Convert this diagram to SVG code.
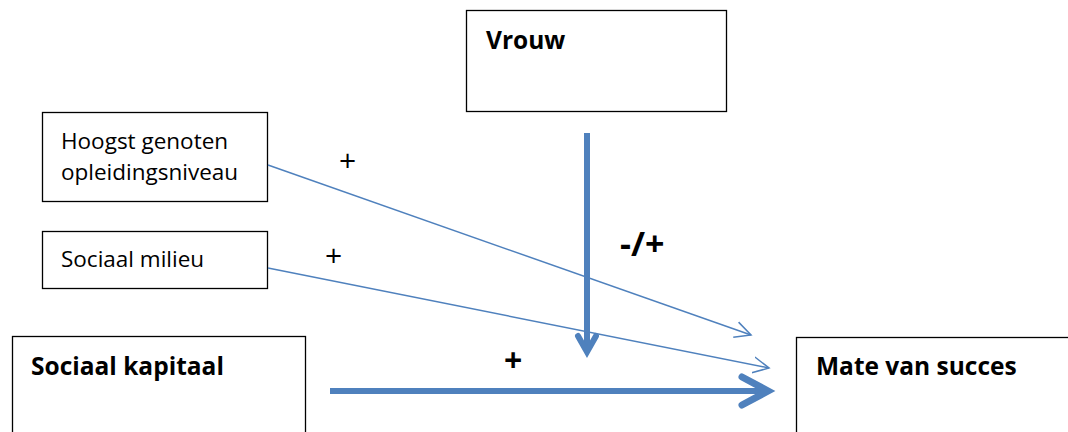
<svg xmlns="http://www.w3.org/2000/svg" width="1068" height="432" viewBox="0 0 1068 432">
<style>
.box{fill:#fff;stroke:#000;stroke-width:1.3}
.t{font-family:"Open Sans","Liberation Sans",sans-serif;fill:#000}
.b{font-weight:bold;font-size:24.5px}
.n{font-size:22.5px}
.thin{stroke:#4f81bd;stroke-width:1.5;fill:none}
.thick{stroke:#4f81bd;stroke-width:6;fill:none}
</style>
<defs>
<marker id="open" markerWidth="22" markerHeight="22" refX="16" refY="8" orient="auto" markerUnits="userSpaceOnUse" viewBox="0 0 22 16">
<path d="M0,0 L16,8 L0,16" fill="none" stroke="#4f81bd" stroke-width="1.5"/>
</marker>
</defs>
<rect width="1068" height="432" fill="#fff"/>
<g id="vrouw"><rect class="box" x="466.5" y="10.5" width="260" height="101"/><text class="t b" x="486" y="49">Vrouw</text></g>
<g id="hoogst"><rect class="box" x="42.5" y="112.5" width="225" height="89"/><text class="t n" x="61" y="149">Hoogst genoten</text><text class="t n" x="61" y="180">opleidingsniveau</text></g>
<g id="milieu"><rect class="box" x="42.5" y="231.5" width="225" height="57"/><text class="t n" x="61" y="267">Sociaal milieu</text></g>
<g id="kapitaal"><rect class="box" x="12.5" y="336.5" width="293" height="110"/><text class="t b" x="31" y="375">Sociaal kapitaal</text></g>
<g id="succes"><rect class="box" x="796.5" y="337.5" width="290" height="110"/><text class="t b" x="816" y="375">Mate van succes</text></g>
<g id="connectors">
<line class="thin" x1="268" y1="165" x2="751" y2="335" marker-end="url(#open)"/>
<line class="thin" x1="268" y1="268" x2="769" y2="368" marker-end="url(#open)"/>
<line class="thick" x1="587" y1="133" x2="587" y2="350"/>
<path d="M578,336 L587,352 L596,336" fill="none" stroke="#4f81bd" stroke-width="6" stroke-linejoin="miter" stroke-linecap="round"/>
<line class="thick" x1="330" y1="391" x2="766" y2="391"/>
<path d="M742,377 L768,391 L742,405" fill="none" stroke="#4f81bd" stroke-width="7" stroke-linejoin="miter" stroke-linecap="round"/>
</g>
<g id="labels">
<text class="t" x="339" y="171" font-size="30">+</text>
<text class="t" x="325" y="266" font-size="30">+</text>
<text class="t" x="504" y="372" font-size="32" font-weight="bold">+</text>
<text class="t" x="620" y="256" font-size="34" font-weight="bold">-/+</text>
</g>
</svg>
